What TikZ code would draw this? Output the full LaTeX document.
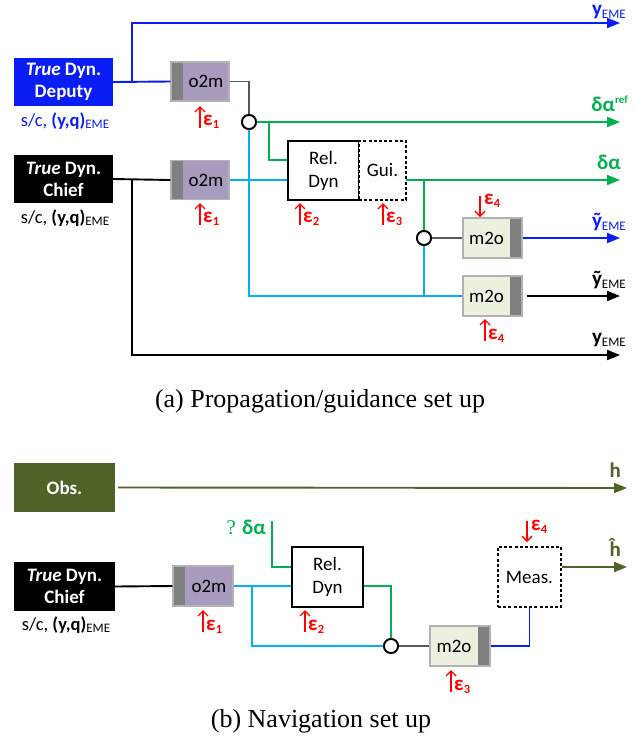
\documentclass[tikz,border=0pt]{standalone}
\usepackage{fontspec}
\setmainfont{Carlito}
\newfontfamily\capfont{Liberation Serif}
\usetikzlibrary{arrows.meta}
\definecolor{dblue}{HTML}{0B1DF5}
\definecolor{lgreen}{HTML}{00B050}
\definecolor{lcyan}{HTML}{00B0F0}
\definecolor{purp}{HTML}{A99BBE}
\definecolor{stripgray}{HTML}{7F7F7F}
\definecolor{mfill}{HTML}{EBF1DE}
\definecolor{olive}{HTML}{4F6228}
\definecolor{lgray}{HTML}{595959}
\newcommand\subEME{\raisebox{-2.5pt}{\fontsize{13}{13}\selectfont\mdseries EME}}
\newcommand\epsl[1]{ε\raisebox{-3pt}{\fontsize{12.5}{12}\selectfont #1}}
\tikzset{
  dynbox/.style={minimum width=99pt, minimum height=48pt, inner sep=0pt, align=center, text=white, font=\fontsize{19}{22}\selectfont\bfseries},
  sclab/.style={inner sep=0pt, font=\fontsize{18.5}{20}\selectfont},
  o2mbox/.style={draw=gray!60, line width=1.2pt, fill=purp, minimum width=58pt, minimum height=39pt, inner sep=0pt, font=\fontsize{19}{20}\selectfont,
    path picture={\fill[stripgray] (path picture bounding box.north west) rectangle ([xshift=12pt]path picture bounding box.south west);}},
  m2obox/.style={draw=gray!60, line width=1.2pt, fill=mfill, minimum width=59pt, minimum height=40pt, inner sep=0pt, font=\fontsize{19}{20}\selectfont,
    path picture={\fill[stripgray] (path picture bounding box.north east) rectangle ([xshift=-12pt]path picture bounding box.south east);}},
  relbox/.style={draw, line width=1.8pt, fill=white, minimum width=71pt, minimum height=59pt, inner sep=0pt, align=center, font=\fontsize{19}{23}\selectfont},
  dashbox/.style={draw, line width=2.6pt, dash pattern=on 3pt off 2.2pt, fill=white, inner sep=0pt, align=center, font=\fontsize{19}{23}\selectfont},
  junc/.style={circle, draw, line width=1.8pt, fill=white, minimum size=14pt, inner sep=0pt},
  epsarr/.style={red, line width=1.4pt, -{Straight Barb[length=5pt,width=10pt]}},
  epslab/.style={red, anchor=west, inner sep=0pt, font=\fontsize{21}{21}\selectfont\bfseries},
  outarr/.style={-{Triangle[length=13pt,width=10pt]}},
  outlab/.style={anchor=south east, inner sep=0pt, font=\fontsize{21}{21}\selectfont\bfseries},
  ln/.style={line width=1.9pt},
  capt/.style={inner sep=0pt, font=\capfont\fontsize{26}{30}\selectfont},
}
\begin{document}
\begin{tikzpicture}[x=1pt,y=-1pt]
\useasboundingbox[fill=white] (0,0) rectangle (635,740);
% ---------------- (a) ----------------
\node[dynbox, fill=dblue] (dep) at (63.5,82) {\textit{True} Dyn.\\Deputy};
\node[sclab, text=dblue] (deplab) at (65,121) {s/c, \textbf{(y,q)}\subEME};
\node[dynbox, fill=black] (chief) at (63.5,179) {\textit{True} Dyn.\\Chief};
\node[sclab] (chieflab) at (65,218) {s/c, \textbf{(y,q)}\subEME};
\node[o2mbox] (o2ma) at (200,81.5) {\hspace*{12pt}o2m};
\node[o2mbox] (o2mb) at (200,180) {\hspace*{12pt}o2m};
\node[junc] (c1) at (249,122) {};
\node[relbox] (rel) at (323.5,170.5) {Rel.\\Dyn};
\node[dashbox, minimum width=47pt, minimum height=59pt] (gui) at (382.5,170.5) {Gui.};
\node[junc] (c2) at (424,238) {};
\node[m2obox] (m2oa) at (492.5,238) {m2o\hspace*{12pt}};
\node[m2obox] (m2ob) at (492.5,296) {m2o\hspace*{12pt}};
% coordinates
\coordinate (jb) at (132,82);
\coordinate (yTop) at (620,23);
\coordinate (jc) at (132,180);
\coordinate (yBot) at (620,355);
\coordinate (refEnd) at (620,122);
\coordinate (jg1) at (269,122);
\coordinate (guiout) at (406,180);
\coordinate (daEnd) at (620,180);
\coordinate (jg2) at (424,180);
\coordinate (tyaEnd) at (620,238);
\coordinate (tybEnd) at (620,296);
% connectors
\draw[ln, dblue] (dep.east) -- (o2ma.west);
\draw[ln, dblue, outarr] (jb) |- (yTop);
\draw[ln] (chief.east) -- (o2mb.west);
\draw[ln, outarr] (jc) |- (yBot);
\draw[ln, lgray] (o2ma.east) -| (c1.north);
\draw[ln, lgreen, outarr] (c1.east) -- (refEnd);
\draw[ln, lgreen] (jg1) |- ([yshift=10.5pt]rel.west);
\draw[ln, lcyan] (o2mb.east) -- (o2mb.east -| rel.west);
\draw[ln, lcyan] (c1.south) |- (m2ob.west);
\draw[ln, lcyan] (c2.south |- m2ob.west) -- (c2.south);
\draw[ln, lgreen, outarr] (guiout) -- (daEnd);
\draw[ln, lgreen] (jg2) -- (c2.north);
\draw[ln, lgray] (c2.east) -- (m2oa.west);
\draw[ln, dblue, outarr] (m2oa.east) -- (tyaEnd);
\draw[ln, outarr] ([xshift=4pt]m2ob.east) -- (tybEnd);
\node[junc] (c1b) at (c1) {};
\node[junc] (c2b) at (c2) {};
\node[dashbox, minimum width=47pt, minimum height=59pt] (guib) at (gui) {Gui.};
% output labels
\node[outlab, text=dblue] (lyTop) at (626,19) {y\subEME};
\node[outlab, text=lgreen] (lref) at (628,112) {δα\raisebox{8pt}{\fontsize{11}{11}\selectfont ref}};
\node[outlab, text=lgreen] (lda) at (621,170) {δα};
\node[outlab, text=dblue] (lya) at (626,231) {ỹ\subEME};
\node[outlab] (lyb) at (626,289) {ỹ\subEME};
\node[outlab] (lyc) at (626,347) {y\subEME};
% epsilon arrows
\coordinate (e1aT) at (200,106); \coordinate (e1aB) at (200,128);
\draw[epsarr] (e1aB) -- (e1aT);
\node[epslab] (e1a) at (203,122) {\epsl{1}};
\coordinate (e1bT) at (200,203); \coordinate (e1bB) at (200,225);
\draw[epsarr] (e1bB) -- (e1bT);
\node[epslab] (e1b) at (203,219) {\epsl{1}};
\coordinate (e2T) at (300,203); \coordinate (e2B) at (300,225);
\draw[epsarr] (e2B) -- (e2T);
\node[epslab] (e2) at (303,219) {\epsl{2}};
\coordinate (e3T) at (383,203); \coordinate (e3B) at (383,225);
\draw[epsarr] (e3B) -- (e3T);
\node[epslab] (e3) at (386,219) {\epsl{3}};
\coordinate (e4aT) at (480,196); \coordinate (e4aB) at (480,217);
\draw[epsarr] (e4aT) -- (e4aB);
\node[epslab] (e4a) at (484,201) {\epsl{4}};
\coordinate (e4bT) at (485,319); \coordinate (e4bB) at (485,341);
\draw[epsarr] (e4bB) -- (e4bT);
\node[epslab] (e4b) at (488,336) {\epsl{4}};
\node[capt] (capa) at (320,401) {(a) Propagation/guidance set up};
% ---------------- (b) ----------------
\node[dynbox, fill=olive, minimum width=101pt, minimum height=49pt] (obs) at (64.5,487.5) {Obs.};
\node[dynbox, fill=black, minimum width=101pt, minimum height=49pt] (chief2) at (64.5,586.5) {\textit{True} Dyn.\\Chief};
\node[sclab] (chief2lab) at (66,625) {s/c, \textbf{(y,q)}\subEME};
\node[o2mbox, minimum width=60pt, minimum height=40pt] (o2mc) at (203,586) {\hspace*{12pt}o2m};
\node[relbox, minimum height=60pt] (rel2) at (327.5,577) {Rel.\\Dyn};
\node[junc] (c3) at (391,646) {};
\node[m2obox, minimum width=60pt] (m2oc) at (460,646) {m2o\hspace*{12pt}};
\node[dashbox, minimum width=63pt, minimum height=60pt] (meas) at (529.5,577) {Meas.};
\node[text=lgreen, inner sep=0pt, anchor=east, font=\fontsize{21}{21}\selectfont\bfseries] (qda) at (266,527) {{\capfont\mdseries ?} δα};
\coordinate (hEnd) at (627,488);
\coordinate (hhEnd) at (627,567);
\coordinate (dastart) at (272,521);
\coordinate (jc2) at (252,586);
\draw[ln, olive, outarr] ([xshift=3pt]obs.east) -- (hEnd);
\draw[ln] (chief2.east) -- (o2mc.west);
\draw[ln, lcyan] (o2mc.east) -- (o2mc.east -| rel2.west);
\draw[ln, lcyan] (jc2) |- (c3.west);
\draw[ln, lgreen] (dastart) |- ([yshift=10pt]rel2.west);
\draw[ln, lgreen] ([yshift=-9pt]rel2.east) -| (c3.north);
\draw[ln, lgray] (c3.east) -- (m2oc.west);
\draw[ln, dblue] (m2oc.east) -| (meas.south);
\draw[ln, olive, outarr] ([yshift=10pt]meas.east) -- (hhEnd);
\node[junc] (c3b) at (c3) {};
\node[outlab, text=olive] (lh) at (621,478) {h};
\node[outlab, text=olive] (lhh) at (621,557) {\^{h}};
\coordinate (f1T) at (203,610); \coordinate (f1B) at (203,632);
\draw[epsarr] (f1B) -- (f1T);
\node[epslab] (f1) at (206,627) {\epsl{1}};
\coordinate (f2T) at (305,610); \coordinate (f2B) at (305,632);
\draw[epsarr] (f2B) -- (f2T);
\node[epslab] (f2) at (308,627) {\epsl{2}};
\coordinate (f3T) at (451,670); \coordinate (f3B) at (451,692);
\draw[epsarr] (f3B) -- (f3T);
\node[epslab] (f3) at (454,687) {\epsl{3}};
\coordinate (f4T) at (527,521); \coordinate (f4B) at (527,542);
\draw[epsarr] (f4T) -- (f4B);
\node[epslab] (f4) at (531,527) {\epsl{4}};
\node[capt] (capb) at (321,721) {(b) Navigation set up};
\end{tikzpicture}
\end{document}
